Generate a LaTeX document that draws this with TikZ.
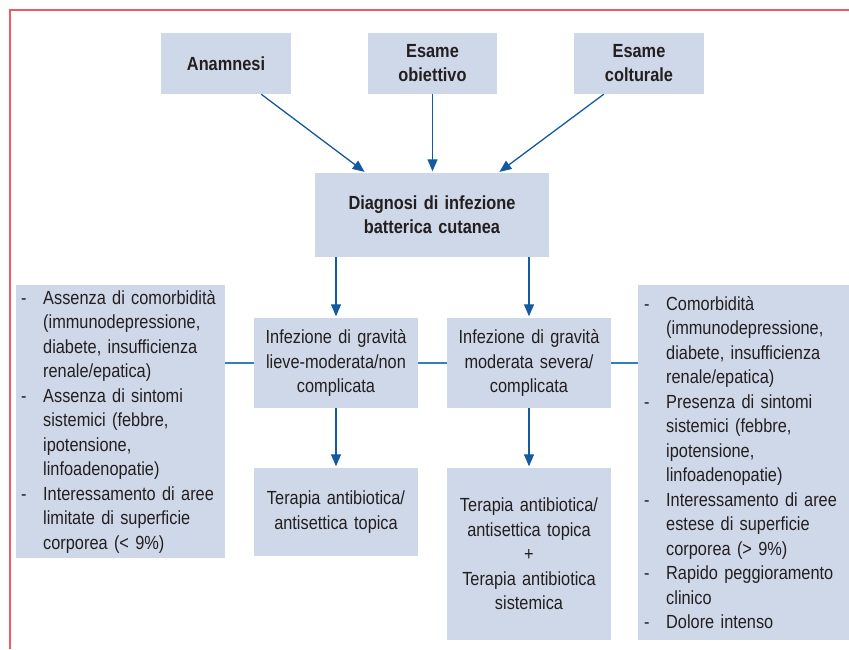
\documentclass[tikz,border=0pt]{standalone}
\usepackage{fontspec}
\setmainfont{Liberation Sans}[FakeStretch=0.86, WordSpace=0.8]
\usetikzlibrary{arrows.meta}

\definecolor{boxfill}{RGB}{207,216,233}
\definecolor{textcol}{RGB}{35,31,32}
\definecolor{arrowcol}{RGB}{20,90,160}
\definecolor{linecol}{RGB}{55,125,190}
\definecolor{framecol}{RGB}{240,90,100}

% one entry of a dashed list
\newcommand\voce[2][22pt]{\noindent\hangindent=#1\hangafter=1\makebox[#1][l]{-}#2\par}

\tikzset{
  box/.style={fill=boxfill, text=textcol, align=center, inner sep=0pt,
    font=\fontsize{19}{24.5}\selectfont},
  head/.style={box, font=\fontsize{19}{24}\selectfont\bfseries},
  list/.style={box, align=left, anchor=north west},
  flow/.style={draw=arrowcol, line width=1.3pt, shorten >=1.5pt,
    -{Triangle[length=12pt,width=10pt]}},
  link/.style={draw=linecol, line width=1.3pt},
}

\begin{document}
\begin{tikzpicture}[x=1pt, y=-1pt]
    \useasboundingbox (0,0) rectangle (849,649);

    % frame
    \draw [framecol, line width=1.5pt] (10,649) -- (10,10) -- (849,10);

    % sources
    \node [head, minimum width=130pt, minimum height=61pt, text width=124pt] (anam) at (226,63.5) {Anamnesi};
    \node [head, minimum width=129pt, minimum height=61pt, text width=124pt] (obiet) at (432.5,63.5) {Esame\\obiettivo};
    \node [head, minimum width=130pt, minimum height=61pt, text width=124pt] (coltur) at (639,63.5) {Esame\\colturale};

    \node [head, minimum width=234pt, minimum height=84pt, text width=228pt] (diag) at (432,215) {Diagnosi di infezione\\batterica cutanea};

    % severity
    \node [box, minimum width=164pt, minimum height=90pt, text width=162pt] (inf1) at (336,363) {Infezione di gravità\\lieve-moderata/non\\complicata};
    \node [box, minimum width=164pt, minimum height=90pt, text width=162pt] (inf2) at (529,363) {Infezione di gravità\\moderata severa/\\complicata};

    % therapy
    \node [box, minimum width=164pt, minimum height=88pt, text width=162pt] (ter1) at (336,512) {Terapia antibiotica/\\antisettica topica};
    \node [box, minimum width=164pt, minimum height=172pt, text width=162pt] (ter2) at (529,554) {Terapia antibiotica/\\antisettica topica\\+\\Terapia antibiotica\\sistemica};

    % criteria
    \node [list, minimum width=209pt, minimum height=273pt, text width=199pt, inner xsep=5pt] (crit1) at (16,285) {%
      \voce{Assenza di comorbidità\newline(immunodepressione,\newline diabete, insufficienza\newline renale/epatica)}
      \voce{Assenza di sintomi\newline sistemici (febbre,\newline ipotensione,\newline linfoadenopatie)}
      \voce{Interessamento di aree\newline limitate di superficie\newline corporea (< 9\%)}};
    \node [list, minimum width=211pt, minimum height=355pt, text width=199pt, inner xsep=6pt] (crit2) at (638,285) {%
      \voce[22pt]{Comorbidità\newline(immunodepressione,\newline diabete, insufficienza\newline renale/epatica)}
      \voce[22pt]{Presenza di sintomi\newline sistemici (febbre,\newline ipotensione,\newline linfoadenopatie)}
      \voce[22pt]{Interessamento di aree\newline estese di superficie\newline corporea (> 9\%)}
      \voce[22pt]{Rapido peggioramento\newline clinico}
      \voce[22pt]{Dolore intenso}};

    % arrows
    \draw [flow] ([xshift=-30pt]anam.south east) -- ([xshift=51pt]diag.north west);
    \draw [flow] (obiet.south) -- (obiet.south |- diag.north);
    \draw [flow] ([xshift=30pt]coltur.south west) -- ([xshift=-51pt]diag.north east);
    \draw [flow] (inf1.north |- diag.south) -- (inf1.north);
    \draw [flow] (inf2.north |- diag.south) -- (inf2.north);
    \draw [flow] (inf1.south) -- (ter1.north);
    \draw [flow] (inf2.south) -- (ter2.north);

    % links
    \draw [link] (crit1.east |- inf1.west) -- (inf1.west);
    \draw [link] (inf1.east) -- (inf2.west);
    \draw [link] (inf2.east) -- (inf2.east -| crit2.west);
\end{tikzpicture}
\end{document}
